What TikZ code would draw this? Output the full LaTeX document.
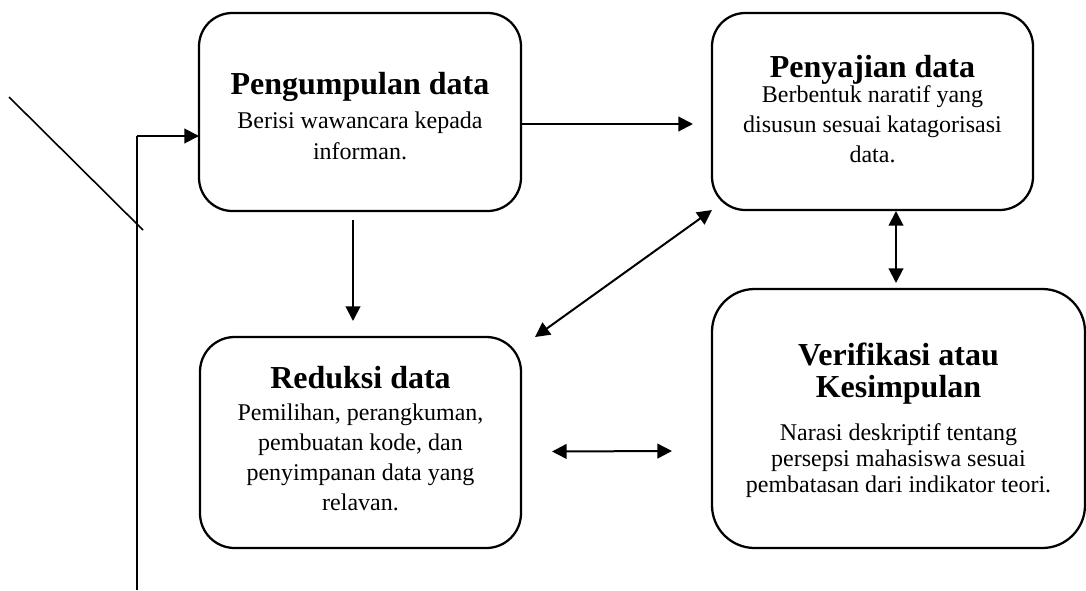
\documentclass[tikz,border=0pt]{standalone}
\usepackage{fontspec}
\setmainfont{Liberation Serif}
\usetikzlibrary{arrows.meta,calc}
\begin{document}
\begin{tikzpicture}[x=0.75pt,y=-0.75pt,
  box/.style={draw,line width=1.7pt,inner sep=0pt,outer sep=0pt},
  txt/.style={anchor=base,align=center,inner sep=0pt},
  conn/.style={line width=1.5pt,-{Triangle[length=11pt,width=11pt]}},
  dconn/.style={line width=1.5pt,{Triangle[length=11pt,width=11pt]}-{Triangle[length=11pt,width=11pt]}},
  thin/.style={line width=1.2pt}]
\useasboundingbox (0,0) rectangle (1086,590);

% boxes
\node[box,rounded corners=25pt,minimum width=241.5pt,minimum height=148.5pt] (P) at (360,112) {};
\node[box,rounded corners=25pt,minimum width=240.75pt,minimum height=147.75pt] (S) at (872.5,111.5) {};
\node[box,rounded corners=26pt,minimum width=240.75pt,minimum height=158.25pt] (R) at (360.5,442.5) {};
\node[box,rounded corners=32pt,minimum width=279.75pt,minimum height=194.25pt] (V) at (898.5,418.5) {};

% texts (anchor base = baseline of the last line)
\node[txt,font=\fontsize{18}{23.25}\selectfont] (Pt) at (360,159)
  {{\bfseries\fontsize{24}{24}\selectfont Pengumpulan data}\\[2.25pt]Berisi wawancara kepada\\informan.};
\node[txt,font=\fontsize{18}{22.5}\selectfont] (St) at (872.5,162)
  {{\bfseries\fontsize{24}{24}\selectfont Penyajian data}\\[-3.75pt]Berbentuk naratif yang\\disusun sesuai katagorisasi\\data.};
\node[txt,font=\fontsize{18}{22.5}\selectfont] (Rt) at (360.5,510)
  {{\bfseries\fontsize{24}{24}\selectfont Reduksi data}\\[1.5pt]Pemilihan, perangkuman,\\pembuatan kode, dan\\penyimpanan data yang\\relavan.};
\node[txt,font=\fontsize{18}{19.5}\selectfont] (Vt) at (898.5,492)
  {{\bfseries\fontsize{24}{24}\selectfont Verifikasi atau}\\[4.5pt]{\bfseries\fontsize{24}{24}\selectfont Kesimpulan}\\[12.75pt]Narasi deskriptif tentang\\persepsi mahasiswa sesuai\\pembatasan dari indikator teori.};

% free line ends
\coordinate (d1) at (9,97);
\coordinate (d2) at (143,230);
\coordinate (vb) at (137,590);
\coordinate (vt) at (137,136);

% connectors
\draw[thin] (d1) -- (d2);
\draw[thin] (vb) -- (vt);
\draw[conn] (vt) -- (vt -| P.west);
\draw[conn] ($(P.east)+(0,12)$) -- ($(S.west)+(-19,12.5)$);
\draw[conn] ($(P.south)+(-7,9)$) -- ($(R.north)+(-7.5,-16)$);
\draw[dconn] ($(R.north east)+(14,0)$) -- (S.south west);
\draw[dconn] ($(S.south)+(23.5,1)$) -- ($(V.north)+(-2.5,-6)$);
\draw[dconn] ($(R.east)+(31,9)$) -- ($(V.west)+(-40,32.5)$);
\end{tikzpicture}
\end{document}
